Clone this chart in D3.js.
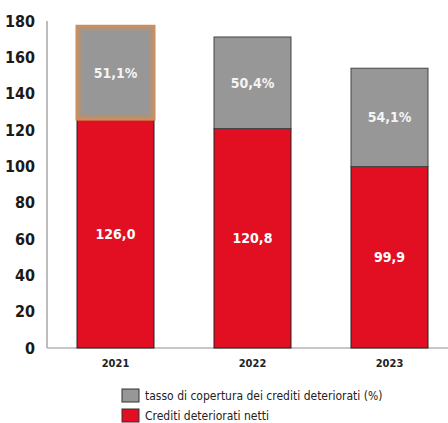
<!DOCTYPE html>
<html>
<head>
<meta charset="utf-8">
<script src="https://cdn.jsdelivr.net/npm/d3@7"></script>
<style>
  body { margin: 0; background: #fff; }
  svg { display: block; font-family: 'DejaVu Sans Condensed', 'DejaVu Sans', sans-serif; }
</style>
</head>
<body>
<svg id="chart" width="448" height="423"></svg>
<script>
const years = ['2021', '2022', '2023'];
const crediti = [126.0, 120.8, 99.9];
const copertura = [51.1, 50.4, 54.1];
const yTicks = [0, 20, 40, 60, 80, 100, 120, 140, 160, 180];
const legendLabels = ['tasso di copertura dei crediti deteriorati (%)', 'Crediti deteriorati netti'];

const RED = '#e10f21', GREY = '#979797', HILITE = '#c98f5e';
const fmt = v => v.toFixed(1).replace('.', ',');

const svg = d3.select('#chart');

const x = d3.scaleBand()
    .domain(years)
    .range([47, 458])
    .paddingInner(0.438)
    .paddingOuter(0.219);

const y = d3.scaleLinear()
    .domain([0, 180])
    .range([348, 21]);

let bars = years.map((yr, i) => ({
    year: yr, red: crediti[i], grey: copertura[i]
}));

svg.append('defs')
    .append('filter')
        .attr('id', 'soft')
        .append('feGaussianBlur')
            .attr('stdDeviation', 1.5);

// axes
svg.append('line')
    .attr('x1', 47).attr('x2', 47)
    .attr('y1', y(180)).attr('y2', y(0))
    .style('stroke', '#9a9a9a').style('stroke-width', 1.3);

svg.append('line')
    .attr('x1', 47).attr('x2', 448)
    .attr('y1', y(0)).attr('y2', y(0))
    .style('stroke', '#b5b5b5').style('stroke-width', 1.5);

svg.selectAll('.tick')
    .data(yTicks)
    .enter()
    .append('text')
        .attr('class', 'tick')
        .attr('x', 35)
        .attr('y', d => y(d))
        .attr('dy', '0.36em')
        .attr('text-anchor', 'end')
        .style('font-size', '16px')
        .style('font-weight', 'bold')
        .style('fill', '#1a1a1a')
        .text(d => d);

// red segments
svg.selectAll('.red')
    .data(bars)
    .enter()
    .append('rect')
        .attr('class', 'red')
        .attr('x', d => x(d.year))
        .attr('width', x.bandwidth())
        .attr('y', d => y(d.red))
        .attr('height', d => y(0) - y(d.red))
        .style('fill', RED)
        .style('stroke', '#222')
        .style('stroke-width', 1);

// grey segments
svg.selectAll('.grey')
    .data(bars)
    .enter()
    .append('rect')
        .attr('class', 'grey')
        .attr('x', d => x(d.year))
        .attr('width', x.bandwidth())
        .attr('y', d => y(d.red + d.grey))
        .attr('height', d => y(d.red) - y(d.red + d.grey))
        .style('fill', GREY)
        .style('stroke', (d, i) => i == 0 ? HILITE : '#444')
        .style('stroke-width', (d, i) => i == 0 ? 3 : 1);

// soft inner glow on the highlighted (first) segment
svg.selectAll('.glow')
    .data(bars.slice(0, 1))
    .enter()
    .append('rect')
        .attr('class', 'glow')
        .attr('x', d => x(d.year) + 2.5)
        .attr('width', x.bandwidth() - 5)
        .attr('y', d => y(d.red + d.grey) + 2.5)
        .attr('height', d => y(d.red) - y(d.red + d.grey) - 5)
        .style('fill', 'none')
        .style('stroke', HILITE)
        .style('stroke-width', 3)
        .style('stroke-opacity', 0.6)
        .attr('filter', 'url(#soft)');

// labels
svg.selectAll('.redLabel')
    .data(bars)
    .enter()
    .append('text')
        .attr('x', d => x(d.year) + x.bandwidth() / 2)
        .attr('y', d => (y(0) + y(d.red)) / 2)
        .attr('dy', '0.36em')
        .attr('text-anchor', 'middle')
        .style('font-size', '14px')
        .style('font-weight', 'bold')
        .style('fill', '#fff')
        .text(d => fmt(d.red));

svg.selectAll('.greyLabel')
    .data(bars)
    .enter()
    .append('text')
        .attr('x', d => x(d.year) + x.bandwidth() / 2)
        .attr('y', d => (y(d.red) + y(d.red + d.grey)) / 2)
        .attr('dy', '0.36em')
        .attr('text-anchor', 'middle')
        .style('font-size', '14px')
        .style('font-weight', 'bold')
        .style('fill', '#f4f4f4')
        .text(d => fmt(d.grey) + '%');

// year labels
svg.selectAll('.year')
    .data(years)
    .enter()
    .append('text')
        .attr('x', d => x(d) + x.bandwidth() / 2)
        .attr('y', 363)
        .attr('dy', '0.36em')
        .attr('text-anchor', 'middle')
        .style('font-size', '11px')
        .style('font-weight', 'bold')
        .style('fill', '#222')
        .text(d => d);

// legend
let legend = svg.selectAll('.legend')
    .data(legendLabels)
    .enter()
    .append('g')
        .attr('class', 'legend')
        .attr('transform', (d, i) => `translate(122, ${389 + i * 20})`);

legend.append('rect')
    .attr('width', 17)
    .attr('height', 13)
    .style('fill', (d, i) => i == 0 ? GREY : RED)
    .style('stroke', '#333')
    .style('stroke-width', 1);

legend.append('text')
    .attr('x', 23)
    .attr('y', 6.5)
    .attr('dy', '0.36em')
    .style('font-size', '12px')
    .style('fill', '#222')
    .text(d => d);
</script>
</body>
</html>
